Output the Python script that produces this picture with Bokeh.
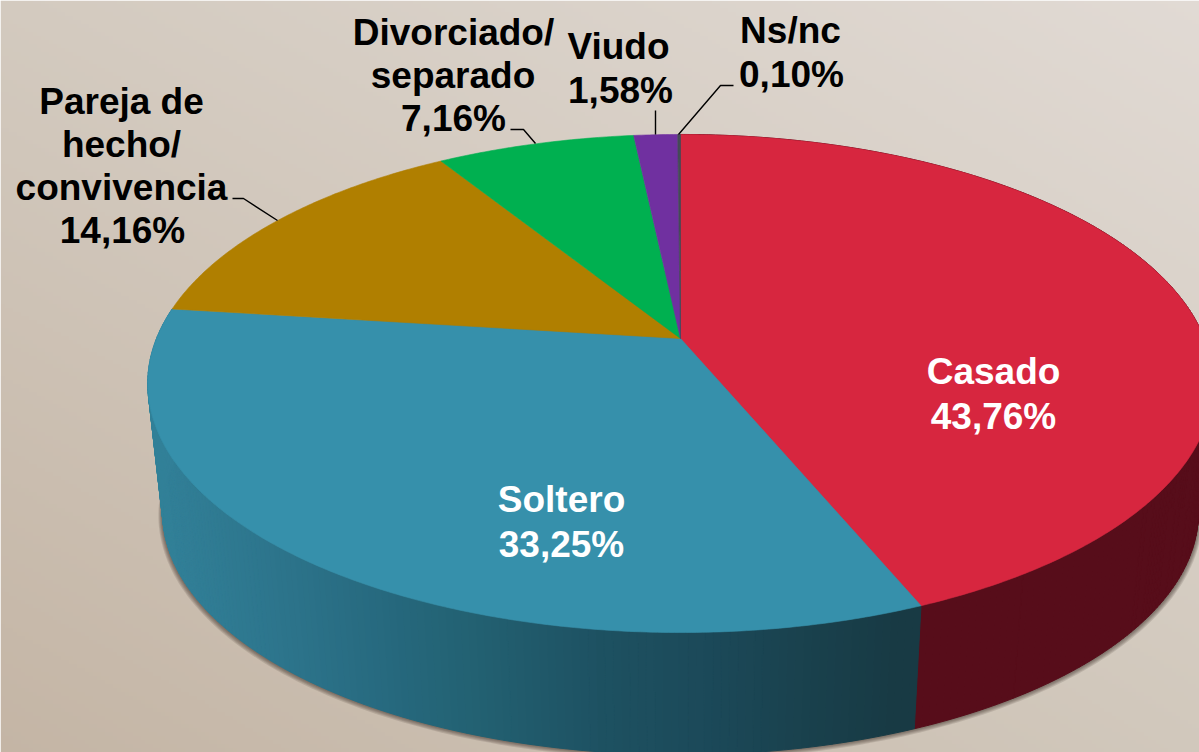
import numpy as np
from bokeh.plotting import figure
from bokeh.core.properties import value
from bokeh.embed import file_html
from bokeh.resources import INLINE

# --- data ---
categories = ["Casado", "Soltero", "Pareja de hecho/ convivencia", "Divorciado/ separado", "Viudo", "Ns/nc"]
shares = [43.76, 33.25, 14.16, 7.16, 1.58, 0.10]
share_labels = ["43,76%", "33,25%", "14,16%", "7,16%", "1,58%", "0,10%"]
label_lines = [["Casado"], ["Soltero"], ["Pareja de", "hecho/", "convivencia"],
               ["Divorciado/", "separado"], ["Viudo"], ["Ns/nc"]]
colors = ["#d7263f", "#3690ab", "#b07f00", "#00b050", "#7030a0", "#454a58"]
label_colors = ["white", "white", "black", "black", "black", "black"]

# --- layout (pixels of the picture) ---
W, H = 1199, 752
CX, CY, RX, RY, K = 680.0, 338.0, 524.0, 240.9, 0.1807
LOW_CY, LOW_S = 468.5, 0.972
TEXT_SHIFT = -12.5
label_pos = [[(993, 383), (993, 428)],
             [(561, 511), (561, 556)],
             [(121, 113), (121, 156), (121, 199), (122, 242)],
             [(453, 44), (452.5, 87), (453, 130)],
             [(618, 58), (620, 102)],
             [(790, 42), (791, 86)]]
leaders = [None, None,
           ([232, 243, 277], [198, 198, 220]),
           ([510, 523, 535], [129, 129, 143]),
           ([655, 655], [110, 134]),
           ([733, 720, 678], [85, 85, 134])]


def project(theta, cy=CY, s=1.0):
    u, v = np.sin(theta), np.cos(theta)
    d = 1 + K * v
    return CX + s * RX * u / d, cy - s * RY * v / d


p = figure(width=W, height=H, x_range=(0, W), y_range=(H, 0),
           output_backend="svg", toolbar_location=None, min_border=0)
p.axis.visible = False
p.grid.visible = False
p.outline_line_color = None

# background gradient
ny, nx = 188, 300
fx = np.linspace(0, 1, nx)[None, :, None]
fy = np.linspace(0, 1, ny)[:, None, None]  # 0 = top of picture
c_tl = np.array([0xd3, 0xca, 0xbf]); c_tr = np.array([0xe1, 0xda, 0xd4])
c_bl = np.array([0xc4, 0xb5, 0xa5]); c_br = np.array([0xd1, 0xc8, 0xbc])
rgb = (1 - fy) * ((1 - fx) * c_tl + fx * c_tr) + fy * ((1 - fx) * c_bl + fx * c_br)
img = np.zeros((ny, nx), dtype=np.uint32)
view = img.view(dtype=np.uint8).reshape((ny, nx, 4))
view[..., :3] = rgb.round().astype(np.uint8)
view[..., 3] = 255
p.image_rgba(image=[img], x=0, y=0, dw=W, dh=H)

# soft shadow under the lower rim
t = np.linspace(0, 2 * np.pi, 361)
for d in [5, 4, 3, 2, 1]:
    sx, sy = project(t, LOW_CY + d * 0.5, LOW_S + d * 0.0016)
    p.patch(sx, sy, fill_color="#3a3028", fill_alpha=0.15, line_color=None)

# side wall, drawn as strips following the value angles
edges = np.cumsum([0.0] + shares) / sum(shares) * 2 * np.pi
stop_x = [150, 170, 300, 400, 450, 600, 700, 800, 900, 920]
stop_r = [50, 50, 44, 38, 36, 30, 28, 26, 24, 24]
stop_g = [128, 128, 115, 104, 100, 82, 74, 66, 58, 58]
stop_b = [152, 152, 138, 125, 118, 98, 90, 78, 68, 68]
xs, ys, cs = [], [], []
for i in range(2):
    n = int(max(2, (edges[i + 1] - edges[i]) / np.radians(0.75)))
    th = np.linspace(edges[i], edges[i + 1], n + 1)
    for a, b in zip(th[:-1], th[1:]):
        x1, y1 = project(a); x2, y2 = project(b)
        x3, y3 = project(b, LOW_CY, LOW_S); x4, y4 = project(a, LOW_CY, LOW_S)
        xs.append([x1, x2, x3, x4]); ys.append([y1, y2, y3, y4])
        if i == 0:
            cs.append("#570d1a")
        else:
            m = (x1 + x2 + x3 + x4) / 4
            cs.append("#%02x%02x%02x" % (int(np.interp(m, stop_x, stop_r)),
                                          int(np.interp(m, stop_x, stop_g)),
                                          int(np.interp(m, stop_x, stop_b))))
p.patches(xs, ys, fill_color=cs, line_color=cs, line_width=1)

# top face
for i, c in enumerate(colors):
    n = max(2, int((edges[i + 1] - edges[i]) / np.radians(0.5)))
    th = np.linspace(edges[i], edges[i + 1], n + 1)
    ax, ay = project(th)
    p.patch(np.r_[CX, ax], np.r_[CY, ay], fill_color=c, line_color=c, line_width=0.6)

# leaders
for l in leaders:
    if l is not None:
        p.line(l[0], l[1], line_color="black", line_width=1.4)

# labels
for i, lines in enumerate(label_lines):
    all_lines = lines + [share_labels[i]]
    for txt, (lx, ly) in zip(all_lines, label_pos[i]):
        p.text([lx], [ly + TEXT_SHIFT], text=[txt], text_font=value("Liberation Sans"),
               text_font_style="bold", text_font_size="37px",
               text_color=label_colors[i], text_align="center",
               text_baseline="alphabetic")

html = file_html(p, INLINE)
html = html.replace("</head>", "<style>html,body{margin:0!important;padding:0;overflow:hidden}</style></head>", 1)
open("out.html", "w").write(html)
